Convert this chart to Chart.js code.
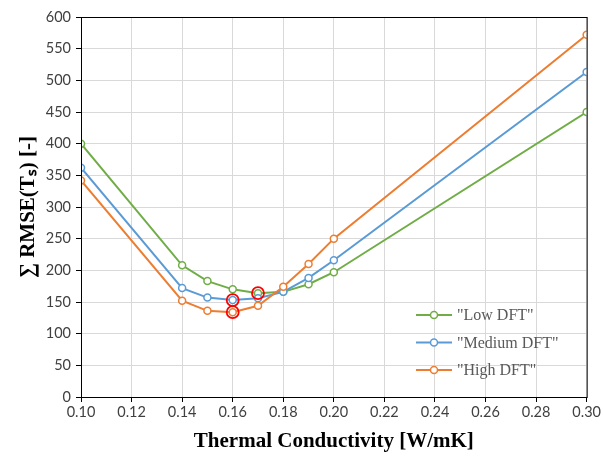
<!DOCTYPE html>
<html>
<head>
<meta charset="utf-8">
<script src="https://cdn.jsdelivr.net/npm/chart.js@4/dist/chart.umd.min.js"></script>
<style>
  body { margin: 0; background: #fff; }
</style>
</head>
<body>
<canvas id="grafico" width="603" height="459"></canvas>
<script>
// dados
const condutividade = [0.10, 0.14, 0.15, 0.16, 0.17, 0.18, 0.19, 0.20, 0.30];
const lowDFT    = [400, 208, 183, 170, 164, 166, 178, 197, 450];
const mediumDFT = [362, 172, 157, 153, 156, 166, 188, 216, 513];
const highDFT   = [342, 152, 136, 134, 144, 174, 210, 250, 572];
const nomes = ['"Low DFT"', '"Medium DFT"', '"High DFT"'];
const cores = ['#70AD47', '#5B9BD5', '#ED7D31'];

const series = [lowDFT, mediumDFT, highDFT];

function pontos(valores) {
  return valores.map((v, i) => ({ x: condutividade[i], y: v }));
}

// ponto de minimo de cada serie (circulo vermelho)
const minimos = series.map(valores => {
  const i = valores.indexOf(Math.min(...valores));
  return { x: condutividade[i], y: valores[i] };
});

const datasets = series.map((valores, k) => ({
  label: nomes[k],
  data: pontos(valores),
  borderColor: cores[k],
  backgroundColor: '#fff',
  borderWidth: 2,
  pointRadius: 3.5,
  pointBorderWidth: 1.5,
  pointBackgroundColor: '#fff',
  order: 3 - k
}));

datasets.push({
  label: 'min',
  data: minimos,
  showLine: false,
  borderColor: '#FF0000',
  backgroundColor: 'rgba(0,0,0,0)',
  pointRadius: 6,
  pointBorderWidth: 1.8,
  order: -1
});

// moldura + legenda dentro da area do grafico
const molduraLegenda = {
  id: 'molduraLegenda',
  afterDraw(chart) {
    const { ctx, chartArea: a } = chart;
    ctx.save();
    ctx.strokeStyle = '#000';
    ctx.lineWidth = 1;
    ctx.strokeRect(a.left + 0.5, a.top + 0.5, a.right - a.left, a.bottom - a.top);

    const x0 = 416, y0 = 315, passo = 27.5;
    ctx.font = '16px "Liberation Serif", serif';
    ctx.textBaseline = 'middle';
    nomes.forEach((nome, k) => {
      const y = y0 + k * passo;
      ctx.strokeStyle = cores[k];
      ctx.lineWidth = 2;
      ctx.beginPath();
      ctx.moveTo(x0, y);
      ctx.lineTo(x0 + 36, y);
      ctx.stroke();
      ctx.beginPath();
      ctx.arc(x0 + 18, y, 3.5, 0, Math.PI * 2);
      ctx.fillStyle = '#fff';
      ctx.fill();
      ctx.lineWidth = 1.5;
      ctx.stroke();
      ctx.fillStyle = '#595959';
      ctx.fillText(nome, x0 + 41, y + 1);
    });
    ctx.restore();
  }
};

new Chart(document.getElementById('grafico'), {
  type: 'line',
  data: { datasets },
  plugins: [molduraLegenda],
  options: {
    responsive: false,
    animation: false,
    layout: { padding: { top: 17, right: 14, left: 0, bottom: 0 } },
    plugins: {
      legend: { display: false },
      tooltip: { enabled: false }
    },
    scales: {
      x: {
        type: 'linear',
        min: 0.10,
        max: 0.30,
        afterFit(scale) { scale.height = 62; },
        ticks: {
          stepSize: 0.02,
          color: '#404040',
          font: { family: 'Lato', size: 14.5 },
          padding: 2,
          callback: v => v.toFixed(2)
        },
        grid: { color: '#D9D9D9', tickColor: '#000', tickLength: 5 },
        border: { color: '#000', width: 1 },
        title: {
          display: true,
          text: 'Thermal Conductivity [W/mK]',
          color: '#000',
          font: { family: '"Liberation Serif", serif', size: 21, weight: 'bold' },
          padding: { top: 2, bottom: 5 }
        }
      },
      y: {
        min: 0,
        max: 600,
        afterFit(scale) { scale.width = 81; },
        ticks: {
          stepSize: 50,
          color: '#404040',
          font: { family: 'Lato', size: 14.5 },
          padding: 5
        },
        grid: { color: '#D9D9D9', tickColor: '#000', tickLength: 5 },
        border: { color: '#000', width: 1 },
        title: {
          display: true,
          text: '∑ RMSE(Tₛ) [-]',
          color: '#000',
          font: { family: '"Liberation Serif", serif', size: 21, weight: 'bold' },
          padding: { top: 16, bottom: 0 }
        }
      }
    }
  }
});
</script>
</body>
</html>
